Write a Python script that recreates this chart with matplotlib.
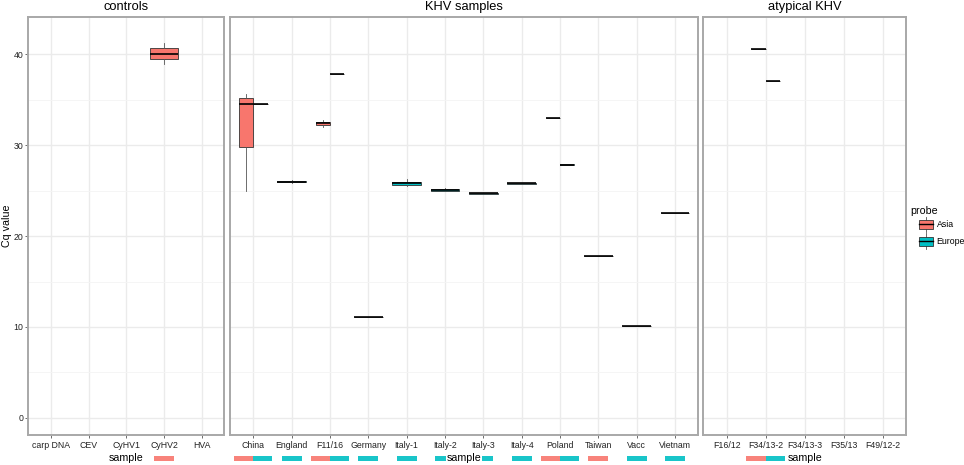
import numpy as np
import matplotlib.pyplot as plt
from matplotlib.patches import Rectangle

plt.rcParams['font.family'] = ['Liberation Sans', 'DejaVu Sans']

W, H = 964, 465
ASIA = '#F8766D'
EUROPE = '#00BFC4'

panel_titles = ['controls', 'KHV samples', 'atypical KHV']
controls = ['carp DNA', 'CEV', 'CyHV1', 'CyHV2', 'HVA']
khv = ['China', 'England', 'F11/16', 'Germany', 'Italy-1', 'Italy-2',
       'Italy-3', 'Italy-4', 'Poland', 'Taiwan', 'Vacc', 'Vietnam']
atypical = ['F16/12', 'F34/13-2', 'F34/13-3', 'F35/13', 'F49/12-2']

# Cq values, Asia probe
cq_asia = {
    'CyHV2': [38.9, 39.5, 40.1, 40.7, 41.3],
    'China': [25.0, 29.8, 34.6, 35.2, 35.7],
    'F11/16': [32.05, 32.25, 32.4, 32.6, 32.8],
    'Poland': [33.0, 33.0],
    'Taiwan': [17.8, 17.8],
    'F34/13-2': [40.6, 40.6],
}
# Europe probe
cq_europe = {
    'China': [34.6, 34.6],
    'England': [25.9, 26.0, 26.2],
    'F11/16': [37.9, 37.9],
    'Germany': [11.05, 11.1, 11.1],
    'Italy-1': [25.55, 25.6, 25.8, 26.0, 26.3],
    'Italy-2': [24.95, 25.0, 25.1, 25.2, 25.35],
    'Italy-3': [24.65, 24.7, 24.7],
    'Italy-4': [25.75, 25.8, 25.85],
    'Poland': [27.8, 27.85, 27.9, 27.95],
    'Vacc': [10.05, 10.1, 10.1],
    'Vietnam': [22.5, 22.5],
    'F34/13-2': [37.1, 37.1],
}

yticks = [0, 10, 20, 30, 40]
ylim = (-1.9, 44.16)

# panel extents in pixels (left, right)
panel_px = [(28.3, 224.3), (230.3, 698.0), (703.3, 906.0)]
top_px, bot_px = 16.7, 435.0

fig = plt.figure(figsize=(W / 100, H / 100), dpi=100)


def px_axes(x0, x1, y0, y1):
    return fig.add_axes([x0 / W, 1 - y1 / H, (x1 - x0) / W, (y1 - y0) / H])


for k, samples in enumerate([controls, khv, atypical]):
    x0, x1 = panel_px[k]
    ax = px_axes(x0, x1, top_px, bot_px)
    n = len(samples)
    ax.set_xlim(-0.6, n - 0.4)
    ax.set_ylim(*ylim)
    ax.set_yticks(yticks)
    ax.set_yticks([5, 15, 25, 35], minor=True)
    ax.set_xticks(range(n))
    ax.set_xticklabels(samples)
    ax.grid(True, which='major', color='#EBEBEB', lw=1.0)
    ax.grid(True, which='minor', axis='y', color='#F4F4F4', lw=0.6)
    ax.set_axisbelow(True)
    for sp in ax.spines.values():
        sp.set_color('#A8A8A8')
        sp.set_linewidth(1.4)
    ax.tick_params(axis='both', which='major', length=2.2, width=0.6,
                   color='#555555', labelsize=6.3, labelcolor='#222222')
    ax.tick_params(axis='x', pad=2.2)
    ax.tick_params(axis='y', pad=1.2)
    ax.tick_params(which='minor', length=0)
    if k > 0:
        ax.tick_params(axis='y', labelleft=False, length=0)

    ax_h = bot_px - top_px
    for i, s in enumerate(samples):
        present = []
        if s in cq_asia:
            present.append((cq_asia[s], ASIA))
        if s in cq_europe:
            present.append((cq_europe[s], EUROPE))
        if len(present) == 2:
            spots = [(i - 0.1875, 0.375), (i + 0.1875, 0.375)]
            bars = [(i - 0.5, i), (i, i + 0.5)]
        else:
            spots = [(i, 0.75)]
            bars = [(i - 0.26, i + 0.26)]
        for (vals, col), (pos, w), (b0, b1) in zip(present, spots, bars):
            ax.boxplot([vals], positions=[pos], widths=[w], patch_artist=True,
                       showcaps=False, manage_ticks=False,
                       boxprops=dict(facecolor=col, edgecolor='#333333', lw=0.6),
                       medianprops=dict(color='black', lw=1.2),
                       whiskerprops=dict(color='#555555', lw=0.6),
                       flierprops=dict(marker='o', markersize=2))
            ax.add_patch(Rectangle((b0, -(456.0 - bot_px) / ax_h - 5 / ax_h),
                                   b1 - b0, 5 / ax_h,
                                   transform=ax.get_xaxis_transform(),
                                   facecolor=col, alpha=0.9, lw=0,
                                   clip_on=False, zorder=3))

    cx = (x0 + x1) / 2 / W
    fig.text(cx, 1 - 457.7 / H, 'sample', ha='center', va='center',
             fontsize=7.7, color='black', zorder=10,
             bbox=dict(facecolor='white', edgecolor='none', pad=0.6))
    fig.text(cx, 1 - 7.0 / H, panel_titles[k], ha='center', va='center',
             fontsize=9.3, color='black')

fig.text(7.5 / W, 1 - 226 / H, 'Cq value', rotation=90, ha='center',
         va='center', fontsize=7.7)

# legend
lg = px_axes(906, 964, 200, 250)
lg.set_xlim(906, 964)
lg.set_ylim(250, 200)
lg.axis('off')
lg.text(910.5, 210.5, 'probe', ha='left', va='center', fontsize=7.7)
for yc, col, lab in [(224.5, ASIA, 'Asia'), (241.0, EUROPE, 'Europe')]:
    lg.plot([925.5, 925.5], [yc - 7.5, yc + 7.5], color='#555555', lw=0.6)
    lg.add_patch(Rectangle((918.5, yc - 4.5), 14, 9, facecolor=col,
                           edgecolor='#333333', lw=0.6, zorder=3))
    lg.plot([918.5, 932.5], [yc, yc], color='black', lw=1.0, zorder=4)
    lg.text(936.5, yc, lab, ha='left', va='center', fontsize=6.3)

fig.savefig('out.png', dpi=100)
